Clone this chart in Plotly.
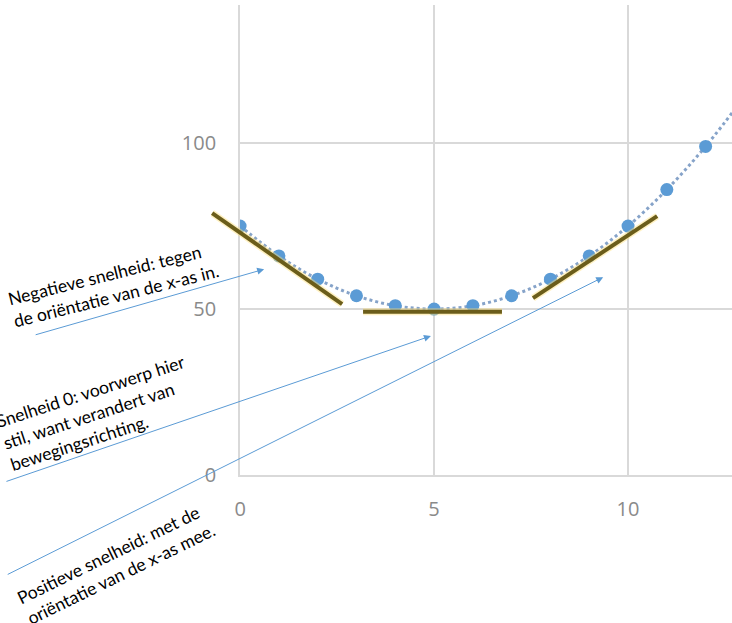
import plotly.graph_objects as go

# ---- data ----
x_vals = [0, 1, 2, 3, 4, 5, 6, 7, 8, 9, 10, 11, 12, 13]
y_vals = [75, 66, 59, 54, 51, 50, 51, 54, 59, 66, 75, 86, 99, 114]

tan_neg_x = [-0.72, 2.63]
tan_neg_y = [78.9, 51.5]
tan_zero_x = [3.17, 6.75]
tan_zero_y = [49.2, 49.2]
tan_pos_x = [7.55, 10.75]
tan_pos_y = [53.3, 78.0]

x_ticks = [0, 5, 10]
y_ticks = [0, 50, 100]

label_neg = "Negatieve snelheid: tegen<br>de oriëntatie van de x-as in."
label_zero = "Snelheid 0: voorwerp hier<br>stil, want verandert van<br>bewegingsrichting."
label_pos = "Positieve snelheid: met de<br>oriëntatie van de x-as mee."

# ---- layout geometry ----
W, H = 732, 623
ML, MR, MT, MB = 211, 0, 5, 148
X2_MIN, X_MAX = -0.75, 12.68
Y_MAX = 141.6
dom0 = -X2_MIN / (X_MAX - X2_MIN)
PW = W - ML - MR
PH = H - MT - MB


def px(xp):
    return (xp - ML) / PW


def py(yp):
    return (H - MB - yp) / PH


BLUE = "#5B9BD5"
OLIVE = "#6B5D1A"
GLOW = "rgba(255,225,120,0.45)"

fig = go.Figure()

fig.add_trace(go.Scatter(
    x=x_vals, y=y_vals, mode="lines+markers",
    line=dict(color="#86A3C9", width=3, dash="dot", shape="spline"),
    marker=dict(color=BLUE, size=13),
    xaxis="x", yaxis="y", showlegend=False, cliponaxis=True,
))

for tx, ty in [(tan_neg_x, tan_neg_y), (tan_zero_x, tan_zero_y), (tan_pos_x, tan_pos_y)]:
    fig.add_trace(go.Scatter(x=tx, y=ty, mode="lines",
                             line=dict(color=GLOW, width=7),
                             xaxis="x2", yaxis="y2", showlegend=False))
    fig.add_trace(go.Scatter(x=tx, y=ty, mode="lines",
                             line=dict(color=OLIVE, width=4),
                             xaxis="x2", yaxis="y2", showlegend=False))

tickfont = dict(family="Open Sans", size=20, color="#8A8A8A")
grid = "#D9D9D9"

fig.update_layout(
    width=W, height=H,
    margin=dict(l=ML, r=MR, t=MT, b=MB, pad=0),
    paper_bgcolor="white", plot_bgcolor="rgba(0,0,0,0)",
    xaxis=dict(domain=[dom0, 1], range=[0, X_MAX], tickvals=x_ticks,
               showgrid=True, gridcolor=grid, gridwidth=1.5,
               zeroline=False, showline=True, linecolor=grid, linewidth=2,
               ticks="", tickfont=tickfont, ticklabelstandoff=15, anchor="y"),
    yaxis=dict(domain=[0, 1], range=[0, Y_MAX], tickvals=y_ticks,
               showgrid=True, gridcolor=grid, gridwidth=1.5,
               zeroline=False, showline=True, linecolor=grid, linewidth=2,
               ticks="", tickfont=tickfont, ticklabelstandoff=18, anchor="x"),
    xaxis2=dict(domain=[0, 1], range=[X2_MIN, X_MAX], visible=False, anchor="y2"),
    yaxis2=dict(domain=[0, 1], range=[0, Y_MAX], visible=False, anchor="x2"),
)

txtfont = dict(family="Lato", size=17.5, color="black")

annos = [
    dict(x=px(113), y=py(285), text=label_neg, textangle=-14),
    dict(x=px(97), y=py(413), text=label_zero, textangle=-18),
    dict(x=px(116), y=py(564), text=label_pos, textangle=-26),
]
for a in annos:
    fig.add_annotation(xref="paper", yref="paper", showarrow=False,
                       xanchor="center", yanchor="middle", align="left",
                       font=txtfont, **a)

# arrows: tip in data coordinates, tail offset in pixels
arrows = [
    dict(x=0.62, y=62.0, ax=-230, ay=66),
    dict(x=4.92, y=41.9, ax=-426, ay=146),
    dict(x=9.36, y=59.6, ax=-597, ay=298),
]
for a in arrows:
    fig.add_annotation(xref="x", yref="y", text="", showarrow=True,
                       arrowhead=2, arrowsize=1.4, arrowwidth=1,
                       arrowcolor=BLUE, standoff=0, **a)

fig.write_html("out.html", config={"displayModeBar": False},
               post_script="document.body.style.margin='0';document.body.style.overflow='hidden';")
